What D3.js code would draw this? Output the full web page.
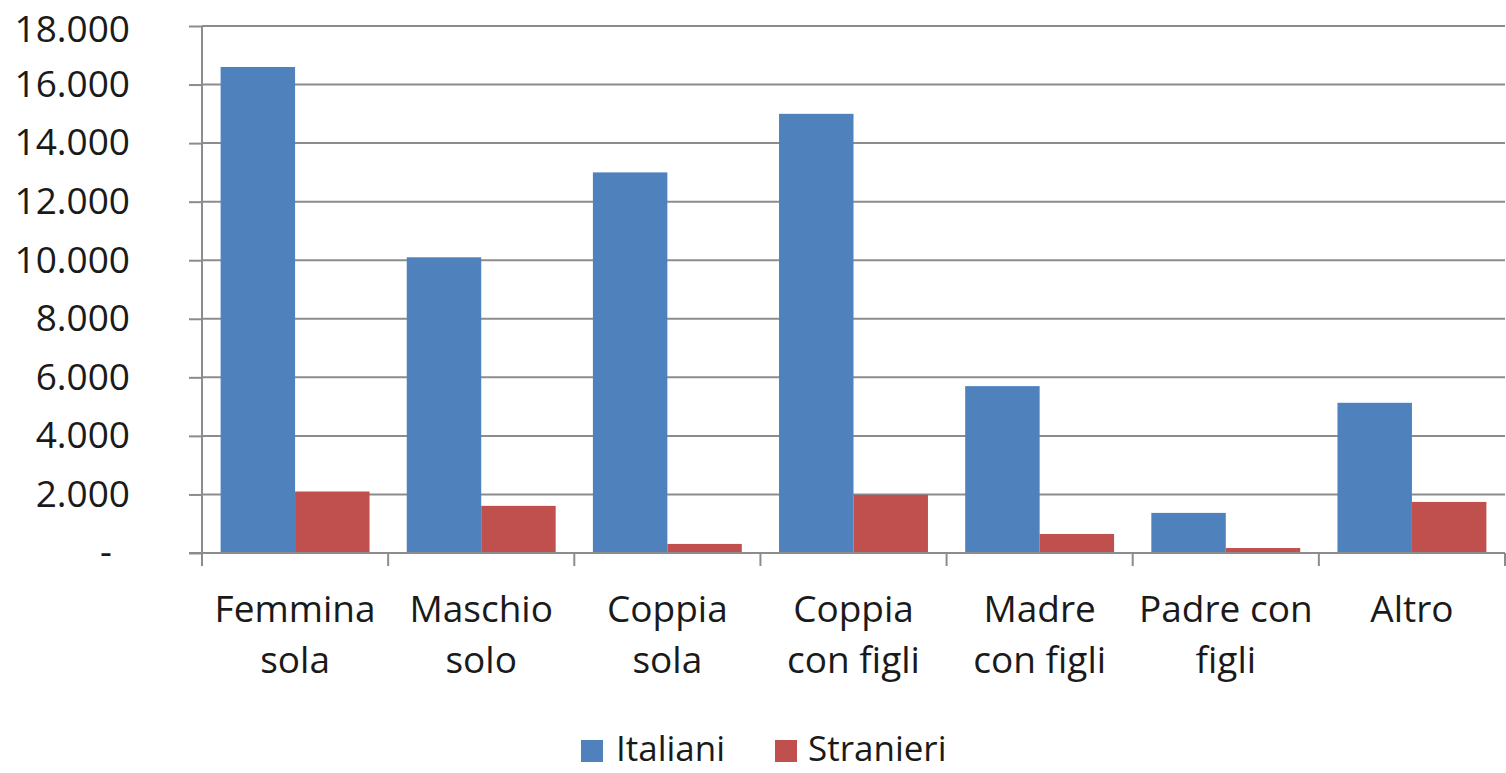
<!DOCTYPE html>
<html>
<head>
    <meta charset="utf-8">
    <title>Italiani e stranieri per tipologia</title>
    <style>
        body { margin: 0; background: #fff; }
        svg { display: block; }
        .tick text, .label, .legend text { font-family: "Open Sans", sans-serif; font-size: 37px; fill: #1a1a1a; }
        .grid line { stroke: #8c8c8c; stroke-width: 2px; }
        .axis path, .axis line { stroke: #8c8c8c; stroke-width: 2px; }
    </style>
    <script src="https://d3js.org/d3.v7.min.js"></script>
</head>
<body>
    <svg width="1506" height="773"></svg>
    <script>
        const categories = [
            ["Femmina", "sola"],
            ["Maschio", "solo"],
            ["Coppia", "sola"],
            ["Coppia", "con figli"],
            ["Madre", "con figli"],
            ["Padre con", "figli"],
            ["Altro"]
        ];
        const series = ["Italiani", "Stranieri"];
        const italiani = [16600, 10100, 13000, 15000, 5700, 1370, 5130];
        const stranieri = [2100, 1610, 310, 1985, 650, 170, 1745];
        const yTicks = [0, 2000, 4000, 6000, 8000, 10000, 12000, 14000, 16000, 18000];
        const colors = ["#4f81bd", "#c0504d"];

        const svg = d3.select("svg");
        const plotLeft = 202, plotRight = 1505, plotTop = 26, plotBottom = 553;

        const x = d3.scaleBand()
            .domain(d3.range(categories.length))
            .range([plotLeft, plotRight]);
        const inner = d3.scaleBand()
            .domain(series)
            .range([0, x.bandwidth()])
            .paddingInner(0)
            .paddingOuter(0.25);
        const y = d3.scaleLinear().domain([0, 18000]).range([plotBottom, plotTop]);

        const fmt = d => d === 0 ? "-" : d3.format(",")(d).replace(/,/g, ".");

        // Grid lines
        svg.append("g")
            .attr("class", "grid")
            .selectAll("line")
            .data(yTicks)
            .enter()
            .append("line")
            .attr("x1", plotLeft)
            .attr("x2", plotRight)
            .attr("y1", d => y(d))
            .attr("y2", d => y(d));

        // Bars
        const values = [italiani, stranieri];
        series.forEach((s, si) => {
            svg.append("g")
                .selectAll("rect")
                .data(values[si])
                .enter()
                .append("rect")
                .attr("x", (d, i) => x(i) + inner(s))
                .attr("width", inner.bandwidth())
                .attr("y", d => y(d))
                .attr("height", d => plotBottom - y(d))
                .attr("fill", colors[si]);
        });

        // Y axis
        const yAxis = svg.append("g")
            .attr("class", "axis")
            .attr("transform", `translate(${plotLeft},0)`)
            .call(d3.axisLeft(y).tickValues(yTicks).tickSize(13).tickPadding(59).tickFormat(fmt));
        yAxis.selectAll(".tick text").filter(d => d === 0).attr("dx", "-18");
        // keep the top label inside the picture
        yAxis.selectAll(".tick text").filter(d => d === 18000).attr("dy", "0.42em");
        yAxis.select(".domain").attr("d", `M0,${plotTop}V${plotBottom + 13}`);

        // X axis
        const xAxis = svg.append("g")
            .attr("class", "axis")
            .attr("transform", `translate(0,${plotBottom})`)
            .call(d3.axisBottom(x).tickSize(0).tickFormat(""));
        xAxis.select(".domain").attr("d", `M${plotLeft - 13},0H${plotRight}`);
        xAxis.selectAll(".sep")
            .data(d3.range(categories.length + 1))
            .enter()
            .append("line")
            .attr("x1", i => i < categories.length ? x(i) : plotRight)
            .attr("x2", i => i < categories.length ? x(i) : plotRight)
            .attr("y1", 0)
            .attr("y2", 13);

        // Category labels
        svg.selectAll(".label")
            .data(categories)
            .enter()
            .append("text")
            .attr("class", "label")
            .attr("text-anchor", "middle")
            .each(function (lines, i) {
                d3.select(this).selectAll("tspan")
                    .data(lines)
                    .enter()
                    .append("tspan")
                    .attr("x", x(i) + x.bandwidth() / 2)
                    .attr("y", (d, j) => 622 + j * 51)
                    .text(d => d);
            });

        // Legend
        const legendItems = [{ name: series[0], sx: 581, tx: 616 }, { name: series[1], sx: 775, tx: 808 }];
        const legend = svg.append("g").attr("class", "legend");
        legendItems.forEach((it, i) => {
            legend.append("rect")
                .attr("x", it.sx).attr("y", 740)
                .attr("width", 22).attr("height", 22)
                .attr("fill", colors[i]);
            legend.append("text")
                .attr("x", it.tx).attr("y", 761)
                .style("font-size", "35px")
                .text(it.name);
        });
    </script>
</body>
</html>
